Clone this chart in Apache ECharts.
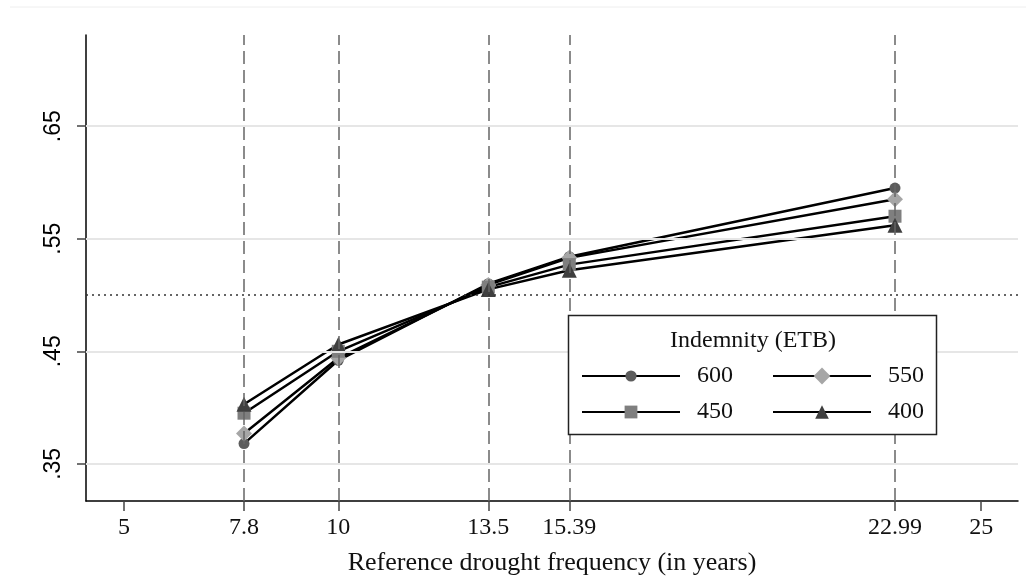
<!DOCTYPE html>
<html>
<head>
<meta charset="utf-8">
<script src="https://cdn.jsdelivr.net/npm/echarts@6/dist/echarts.min.js"></script>
<style>
html,body{margin:0;padding:0;background:#fff;}
#chart{width:1036px;height:584px;}
</style>
</head>
<body>
<div id="chart"></div>
<script>
// ---- data ----
const xValues = [7.8, 10, 13.5, 15.39, 22.99];
const xTicks = [5, 7.8, 10, 13.5, 15.39, 22.99, 25];
const yTicks = [0.35, 0.45, 0.55, 0.65];
const seriesNames = ['600', '550', '450', '400'];
const s600 = [0.368, 0.442, 0.510, 0.534, 0.595];
const s550 = [0.377, 0.444, 0.509, 0.533, 0.585];
const s450 = [0.395, 0.450, 0.507, 0.527, 0.570];
const s400 = [0.403, 0.456, 0.505, 0.522, 0.562];
const refLine = 0.5;
const legendTitle = 'Indemnity (ETB)';
const xTitle = 'Reference drought frequency (in years)';

const seriesValues = [s600, s550, s450, s400];
const symbols = ['circle', 'diamond', 'rect', 'triangle'];
const symbolSizes = [11, 16, 13, 15];
const symbolColors = ['#5c5c5c', '#a6a6a6', '#7f7f7f', '#3f3f3f'];

const serif = '"Liberation Serif", "Times New Roman", serif';
const sans = '"Liberation Sans", Arial, sans-serif';

const chart = echarts.init(document.getElementById('chart'));

const series = seriesNames.map((n, i) => ({
  name: n,
  type: 'line',
  data: xValues.map((x, j) => [x, seriesValues[i][j]]),
  symbol: symbols[i],
  symbolSize: symbolSizes[i],
  showAllSymbol: true,
  lineStyle: { color: '#000', width: 2.5 },
  itemStyle: { color: symbolColors[i] },
  emphasis: { disabled: true },
  z: 3
}));

series.unshift({
  name: 'ref',
  type: 'line',
  data: [],
  silent: true,
  markLine: {
    silent: true,
    symbol: 'none',
    label: { show: false },
    animation: false,
    data: [
      ...yTicks.map(v => ({ yAxis: v, lineStyle: { color: '#e6e6e6', width: 2, type: 'solid' } })),
      { yAxis: refLine, lineStyle: { color: '#333', width: 1.5, type: [2, 4] } },
      ...xValues.map(v => ({ xAxis: v, lineStyle: { color: '#666', width: 1.5, type: [13, 6] } }))
    ]
  },
  z: 1
});

// one legend per entry so each marker can have its own size
const legendSpec = [
  { name: '600', left: 581, cy: 376, h: 14 },
  { name: '550', left: 772, cy: 376, h: 21 },
  { name: '450', left: 581, cy: 412, h: 16 },
  { name: '400', left: 772, cy: 412, h: 17 }
];
const legends = legendSpec.map(s => ({
  data: [s.name],
  left: s.left, top: s.cy - 12, padding: 0,
  itemWidth: 98, itemHeight: s.h,
  formatter: '  {name}',
  textStyle: { fontFamily: serif, fontSize: 24, color: '#111' },
  selectedMode: false, z: 20
}));

chart.setOption({
  animation: false,
  backgroundColor: '#fff',
  grid: { left: 86, right: 18, top: 35, bottom: 83, containLabel: false },
  xAxis: {
    type: 'value',
    min: 4.113,
    max: 25.86,
    splitLine: { show: false },
    axisLine: { lineStyle: { color: '#000', width: 1.5 } },
    axisTick: { show: true, customValues: xTicks, length: 10, lineStyle: { color: '#444', width: 1.5 } },
    axisLabel: {
      customValues: xTicks,
      formatter: v => String(v),
      fontFamily: serif, fontSize: 24, color: '#111', margin: 15
    },
    name: xTitle,
    nameLocation: 'middle',
    nameGap: 49,
    nameTextStyle: { fontFamily: serif, fontSize: 26, color: '#111' }
  },
  yAxis: {
    type: 'value',
    min: 0.317,
    max: 0.731,
    splitLine: { show: false },
    axisLine: { show: true, lineStyle: { color: '#000', width: 1.5 } },
    axisTick: { show: true, customValues: yTicks, length: 9, lineStyle: { color: '#444', width: 1.5 } },
    axisLabel: {
      customValues: yTicks,
      formatter: v => v.toFixed(2).replace(/^0/, ''),
      rotate: 90,
      fontFamily: sans, fontSize: 23, color: '#000', margin: 21
    }
  },
  legend: legends,
  graphic: [
    {
      type: 'line', z: 0, silent: true,
      shape: { x1: 10, y1: 7, x2: 1026, y2: 7 },
      style: { stroke: '#eeeeee', lineWidth: 1 }
    },
    {
      type: 'rect', z: 10, silent: true,
      shape: { x: 568.5, y: 315.5, width: 368, height: 119 },
      style: { fill: '#fff', stroke: '#222', lineWidth: 1.5 }
    },
    {
      type: 'text', z: 11, silent: true,
      x: 753, y: 341,
      style: {
        text: legendTitle, fontFamily: serif, fontSize: 24, fill: '#111',
        align: 'center', verticalAlign: 'middle'
      }
    }
  ],
  series: series
});
</script>
</body>
</html>
